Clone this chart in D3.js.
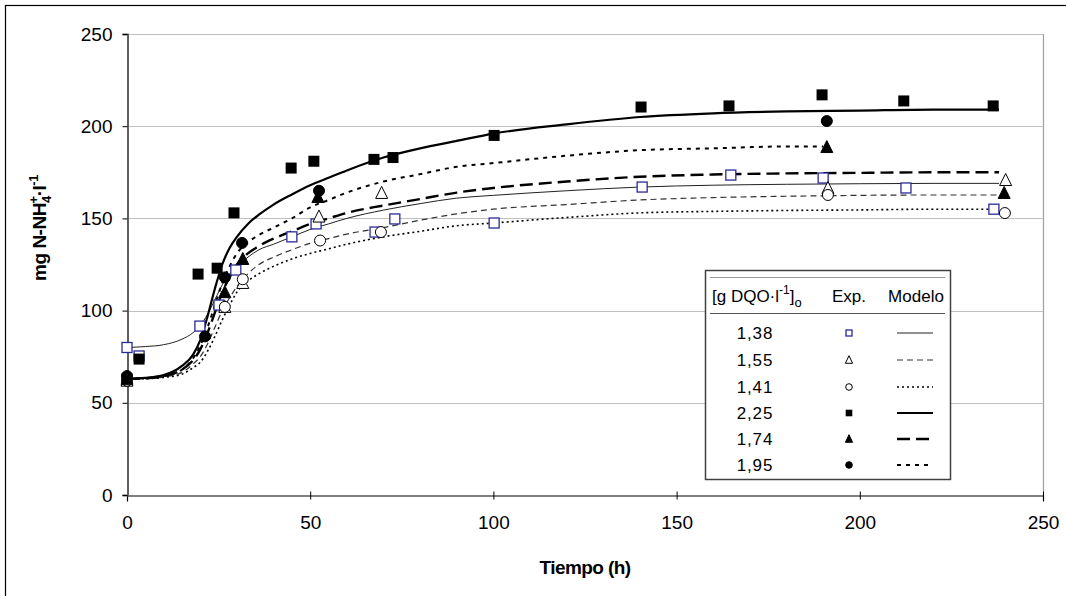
<!DOCTYPE html>
<html><head><meta charset="utf-8">
<script src="https://cdn.jsdelivr.net/npm/d3@7"></script>
<style>
html,body{margin:0;padding:0;background:#fff;}
text{font-family:"Liberation Sans",Arial,sans-serif;}
</style></head>
<body><svg id="c" width="1066" height="596"></svg>
<script>
// ---- data ----
const xTicks = [0, 50, 100, 150, 200, 250];
const yTicks = [0, 50, 100, 150, 200, 250];
const seriesLabels = ["1,38", "1,55", "1,41", "2,25", "1,74", "1,95"];

const expT_138 = [0, 3.3, 19.9, 25.1, 29.7, 45, 51.6, 67.7, 73.1, 100.2, 140.6, 164.8, 190, 212.6, 236.6];
const expY_138 = [80, 75.4, 91.6, 103, 122, 140, 147, 142.6, 149.7, 147.5, 167, 173.5, 171.9, 166.5, 155];
const expT_155 = [0, 26.7, 31.6, 52.4, 69.5, 191.3, 239.8];
const expY_155 = [62, 102, 115, 151, 163.8, 166.5, 170.8];
const expT_141 = [0, 26.7, 31.6, 52.7, 69.3, 191.3, 239.6];
const expY_141 = [62, 102, 117, 138, 142.6, 162.7, 152.9];
const expT_225 = [0, 3.3, 19.4, 24.6, 29.2, 44.8, 51, 67.4, 72.6, 100.2, 140.3, 164.3, 189.7, 212, 236.4];
const expY_225 = [63, 73.7, 119.8, 123, 153, 177.3, 181, 182, 183, 195, 210.4, 211, 217, 213.7, 211];
const expT_174 = [0, 26.7, 31.6, 52.1, 191, 239.4];
const expY_174 = [63, 110, 128, 161.6, 188.7, 163.8];
const expT_195 = [0, 21.3, 26.7, 31.4, 52.4, 191];
const expY_195 = [64.5, 86, 118, 136.7, 165, 202.8];

const modT = [0, 5, 10, 15, 18, 20, 22, 24, 26, 28, 30, 33, 36, 40, 45, 50, 55, 60, 70, 80, 90, 100, 120, 140, 160, 180, 200, 220, 238];
const modT_195 = [0, 5, 10, 15, 18, 20, 22, 24, 26, 28, 30, 33, 36, 40, 45, 50, 55, 60, 70, 80, 90, 100, 120, 140, 160, 180, 190];
const mod_138 = [80, 80.5, 81.5, 84.5, 88, 92, 98, 106, 114, 120, 124, 129, 133, 136, 140, 144, 147, 150, 154.5, 158, 161, 162.5, 165, 167, 168, 168.5, 168.8, 169, 169];
const mod_155 = [63, 63.2, 64, 66.5, 71, 75, 82, 91, 100, 107, 113, 120, 125, 129, 133, 136.5, 139, 141.5, 145, 149, 152.5, 155, 157.5, 160, 161.3, 162, 162.5, 162.7, 162.7];
const mod_141 = [63, 63.1, 63.8, 65.5, 69, 72, 78, 86, 95, 103, 110, 116, 120, 124, 128, 131, 133.5, 136, 140, 143, 146, 147.5, 150.5, 153, 153.8, 154.3, 154.6, 155, 155];
const mod_225 = [63, 63.5, 65, 70, 76, 84, 97, 112, 125, 134, 140, 147, 152, 157.5, 163, 168, 172, 176, 183, 188, 192, 196, 201, 205, 207, 208, 208.5, 209, 209];
const mod_174 = [63, 63.3, 64.5, 68, 73, 79, 88, 99, 110, 118, 125, 131, 135, 139, 143, 147, 150, 153, 157, 160.5, 164, 166.5, 170, 172.6, 173.8, 174.4, 174.7, 175, 175];
const mod_195 = [63, 63.3, 64.5, 68, 74, 81, 91, 103, 115, 124, 131, 137, 141, 145, 150, 156, 160, 164, 170, 174, 178, 180, 184, 187, 188, 189, 189];

// ---- build ----
const zip = (t, v) => t.map((d, i) => ({t: d, v: v[i]}));
const series = [
  {label: seriesLabels[0], exp: zip(expT_138, expY_138), mod: zip(modT, mod_138), marker: "sqOpen",
   line: {w: 1, dash: null, color: "#222"}},
  {label: seriesLabels[1], exp: zip(expT_155, expY_155), mod: zip(modT, mod_155), marker: "triOpen",
   line: {w: 1.2, dash: "6,4", color: "#333"}},
  {label: seriesLabels[2], exp: zip(expT_141, expY_141), mod: zip(modT, mod_141), marker: "cirOpen",
   line: {w: 1.6, dash: "2,3", color: "#000"}},
  {label: seriesLabels[3], exp: zip(expT_225, expY_225), mod: zip(modT, mod_225), marker: "sqFill",
   line: {w: 2.2, dash: null, color: "#000"}},
  {label: seriesLabels[4], exp: zip(expT_174, expY_174), mod: zip(modT, mod_174), marker: "triFill",
   line: {w: 2.4, dash: "13,6", color: "#000"}},
  {label: seriesLabels[5], exp: zip(expT_195, expY_195), mod: zip(modT_195, mod_195), marker: "cirFill",
   line: {w: 2, dash: "4,5", color: "#000"}}
];

const svg = d3.select("#c");
const x = d3.scaleLinear().domain([0, 250]).range([127, 1043]);
const y = d3.scaleLinear().domain([0, 250]).range([495, 34]);

// outer chart frame
svg.append("rect").attr("x", 5.5).attr("y", 5.5).attr("width", 1080).attr("height", 620)
  .attr("fill", "none").attr("stroke", "#000").attr("stroke-width", 1.2);

// gridlines
svg.append("g").selectAll("line").data(yTicks.filter(d => d > 0)).join("line")
  .attr("x1", x(0)).attr("x2", x(250)).attr("y1", d => Math.round(y(d)) + 0.5).attr("y2", d => Math.round(y(d)) + 0.5)
  .attr("stroke", "#c0c0c0").attr("stroke-width", 1);
// plot area right border
svg.append("line").attr("x1", x(250) + 0.5).attr("x2", x(250) + 0.5).attr("y1", y(250)).attr("y2", y(0))
  .attr("stroke", "#a0a0a0").attr("stroke-width", 1.2);

// axes
const xAxis = d3.axisBottom(x).tickValues(xTicks).tickSize(6).tickPadding(14);
const gx = svg.append("g").attr("transform", `translate(0,${Math.round(y(0)) + 0.5})`).call(xAxis);
gx.select(".domain").attr("stroke", "#000").attr("stroke-width", 1.2);
gx.selectAll(".tick line").attr("stroke", "#000").attr("y1", -4).attr("y2", 4);
gx.selectAll("text").attr("font-size", 19).attr("fill", "#000").attr("font-family", "Liberation Sans, Arial");

const yAxis = d3.axisLeft(y).tickValues(yTicks).tickSize(5).tickPadding(10);
const gy = svg.append("g").attr("transform", `translate(${Math.round(x(0)) + 0.5},0)`).call(yAxis);
gy.select(".domain").attr("stroke", "#606060").attr("stroke-width", 2);
gy.selectAll(".tick line").attr("stroke", "#000");
gy.selectAll("text").attr("font-size", 19).attr("fill", "#000").attr("font-family", "Liberation Sans, Arial");

// axis titles
svg.append("text").attr("x", 585).attr("y", 574).attr("text-anchor", "middle")
  .attr("font-size", 19).attr("font-weight", "bold").attr("letter-spacing", "-0.6").text("Tiempo (h)");

const yt = svg.append("text").attr("transform", "translate(46,228) rotate(-90)").attr("text-anchor", "middle")
  .attr("font-size", 19).attr("font-weight", "bold").attr("letter-spacing", "-0.5");
yt.append("tspan").text("mg N-NH");
yt.append("tspan").attr("font-size", 13).attr("dy", 5).text("4");
yt.append("tspan").attr("font-size", 13).attr("dx", -7).attr("dy", -13).text("+");
yt.append("tspan").attr("font-size", 19).attr("dy", 8).text("·l");
yt.append("tspan").attr("font-size", 13).attr("dy", -8).text("-1");

// model curves
const lineGen = d3.line().x(d => x(d.t)).y(d => y(d.v)).curve(d3.curveMonotoneX);
svg.append("g").selectAll("path").data(series).join("path")
  .attr("d", s => lineGen(s.mod)).attr("fill", "none")
  .attr("stroke", s => s.line.color).attr("stroke-width", s => s.line.w)
  .attr("stroke-dasharray", s => s.line.dash);

// markers
function drawMarker(g, type, cx, cy, scale) {
  const k = scale || 1;
  if (type === "sqOpen") {
    const s = 10 * k;
    g.append("rect").attr("x", cx - s / 2).attr("y", cy - s / 2).attr("width", s).attr("height", s)
      .attr("fill", "#fff").attr("stroke", "#2a2a9a").attr("stroke-width", 1.3);
  } else if (type === "sqFill") {
    const s = 11 * k;
    g.append("rect").attr("x", cx - s / 2).attr("y", cy - s / 2).attr("width", s).attr("height", s)
      .attr("fill", "#000");
  } else if (type === "cirOpen" || type === "cirFill") {
    g.append("circle").attr("cx", cx).attr("cy", cy).attr("r", 5.5 * k)
      .attr("fill", type === "cirFill" ? "#000" : "#fff").attr("stroke", "#000").attr("stroke-width", 1);
  } else {
    const h = 11 * k, w = 12 * k;
    g.append("path").attr("d", `M${cx},${cy - h / 2 - 1}L${cx + w / 2},${cy + h / 2}L${cx - w / 2},${cy + h / 2}Z`)
      .attr("fill", type === "triFill" ? "#000" : "#fff").attr("stroke", "#000").attr("stroke-width", 1);
  }
}
const gm = svg.append("g");
series.forEach(s => s.exp.forEach(d => drawMarker(gm, s.marker, x(d.t), y(d.v))));

// legend
const lg = svg.append("g");
lg.append("rect").attr("x", 705.5).attr("y", 270.5).attr("width", 245).attr("height", 209)
  .attr("fill", "#fff").attr("stroke", "#404040").attr("stroke-width", 1.5);
lg.append("line").attr("x1", 710).attr("x2", 945).attr("y1", 277.5).attr("y2", 277.5).attr("stroke", "#999");
lg.append("line").attr("x1", 710).attr("x2", 945).attr("y1", 313.5).attr("y2", 313.5).attr("stroke", "#555");
const hd = lg.append("text").attr("x", 712).attr("y", 302).attr("font-size", 17);
hd.append("tspan").text("[g DQO·l");
hd.append("tspan").attr("font-size", 12).attr("dy", -8).text("-1");
hd.append("tspan").attr("font-size", 17).attr("dy", 8).text("]");
hd.append("tspan").attr("font-size", 13).attr("dy", 5).text("o");
lg.append("text").attr("x", 849).attr("y", 302).attr("text-anchor", "middle").attr("font-size", 17).text("Exp.");
lg.append("text").attr("x", 916).attr("y", 302).attr("text-anchor", "middle").attr("font-size", 17).text("Modelo");
const rowY = [333, 360, 387, 413, 439, 465];
series.forEach((s, i) => {
  lg.append("text").attr("x", 755).attr("y", rowY[i] + 6).attr("text-anchor", "middle")
    .attr("font-size", 17).attr("letter-spacing", "0.8").text(s.label);
  drawMarker(lg, s.marker, 849, rowY[i], 0.6);
  lg.append("line").attr("x1", 897).attr("x2", 933).attr("y1", rowY[i]).attr("y2", rowY[i])
    .attr("stroke", s.line.color).attr("stroke-width", s.line.w).attr("stroke-dasharray", s.line.dash);
});
</script></body></html>
